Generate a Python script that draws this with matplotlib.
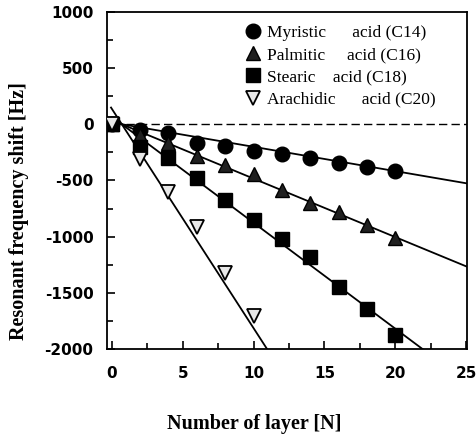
import matplotlib
matplotlib.use("Agg")
import matplotlib.pyplot as plt
import numpy as np
from matplotlib.ticker import MultipleLocator

plt.rcParams["axes.unicode_minus"] = False

# ---- data ----
layers = [0, 2, 4, 6, 8, 10, 12, 14, 16, 18, 20]
myristic = [0, -52, -81, -164, -191, -235, -265, -303, -347, -383, -416]
palmitic = [0, -95, -170, -285, -360, -445, -585, -700, -780, -895, -1010]
stearic = [0, -200, -303, -481, -669, -847, -1018, -1183, -1449, -1645, -1873]
layers_arachidic = [0, 2, 4, 6, 8, 10]
arachidic = [0, -306, -602, -916, -1319, -1704]

labels = ["Myristic      acid (C14)", "Palmitic     acid (C16)",
          "Stearic    acid (C18)", "Arachidic      acid (C20)"]
# fitted lines: slope [Hz/layer], zero-crossing layer, first drawn layer
fit_slopes = [-21.6, -52.0, -94.2, -195.0]
fit_zero = [0.71, 0.71, 0.71, 0.71]
fit_start = [0.5, 0.5, 0.3, -0.05]

xticks = [0, 5, 10, 15, 20, 25]
yticks = [-2000, -1500, -1000, -500, 0, 500, 1000]

fig = plt.figure(figsize=(4.76, 4.38), dpi=100)
ax = fig.add_axes([0.2258, 0.2025, 0.981 - 0.2258, 0.9733 - 0.2025])

xmax = 25.05
ax.set_xlim(-0.3, xmax)
ax.set_ylim(-2000, 1000)

# zero dashed line
ax.plot([1.0, xmax], [0, 0], color="black", lw=1.0, ls=(0, (6, 3)), zorder=1)

# fitted lines
for s, z, st in zip(fit_slopes, fit_zero, fit_start):
    xs = np.array([st, xmax])
    ax.plot(xs, s * (xs - z), color="black", lw=1.3, zorder=2)

ms = 10.5
h1, = ax.plot(layers, myristic, "o", ms=ms, mfc="black", mec="black", zorder=3)
h2, = ax.plot(layers, palmitic, "^", ms=ms, mfc="#202020", mec="black", zorder=3)
h3, = ax.plot(layers, stearic, "s", ms=ms - 1, mfc="black", mec="black", zorder=3)
h4, = ax.plot(layers_arachidic, arachidic, "v", ms=9.5, mfc="#e8e8e8", mec="black",
              mew=1.3, zorder=4)

leg = ax.legend([h1, h2, h3, h4], labels, loc="upper left",
                bbox_to_anchor=(0.374, 0.961), frameon=False,
                prop={"family": "Liberation Serif", "size": 12.5},
                handletextpad=0.22, labelspacing=0.35, handlelength=1.25,
                borderaxespad=0.0, borderpad=0.0)

ax.set_xticks(xticks)
ax.set_yticks(yticks)
ax.xaxis.set_minor_locator(MultipleLocator(2.5))
ax.yaxis.set_minor_locator(MultipleLocator(250))
ax.tick_params(which="both", direction="in", top=False, right=False, width=1.2)
ax.tick_params(which="major", length=6)
ax.tick_params(which="minor", length=4)
ax.tick_params(axis="x", pad=12)
ax.tick_params(axis="y", pad=10)
for lab in ax.get_xticklabels() + ax.get_yticklabels():
    lab.set_fontfamily("DejaVu Sans")
    lab.set_fontweight("bold")
    lab.set_fontsize(11)

for sp in ax.spines.values():
    sp.set_linewidth(1.3)

ax.set_xlabel("Number of layer [N]", family="Liberation Serif", weight="bold",
              fontsize=14.5, va="center", ha="center")
ax.xaxis.set_label_coords(0.4075, -0.221)
ax.set_ylabel("Resonant frequency shift [Hz]", family="Liberation Serif",
              weight="bold", fontsize=14.5, va="center", ha="center")
ax.yaxis.set_label_coords(-0.246, 0.408)

fig.savefig("out.png", dpi=100)
